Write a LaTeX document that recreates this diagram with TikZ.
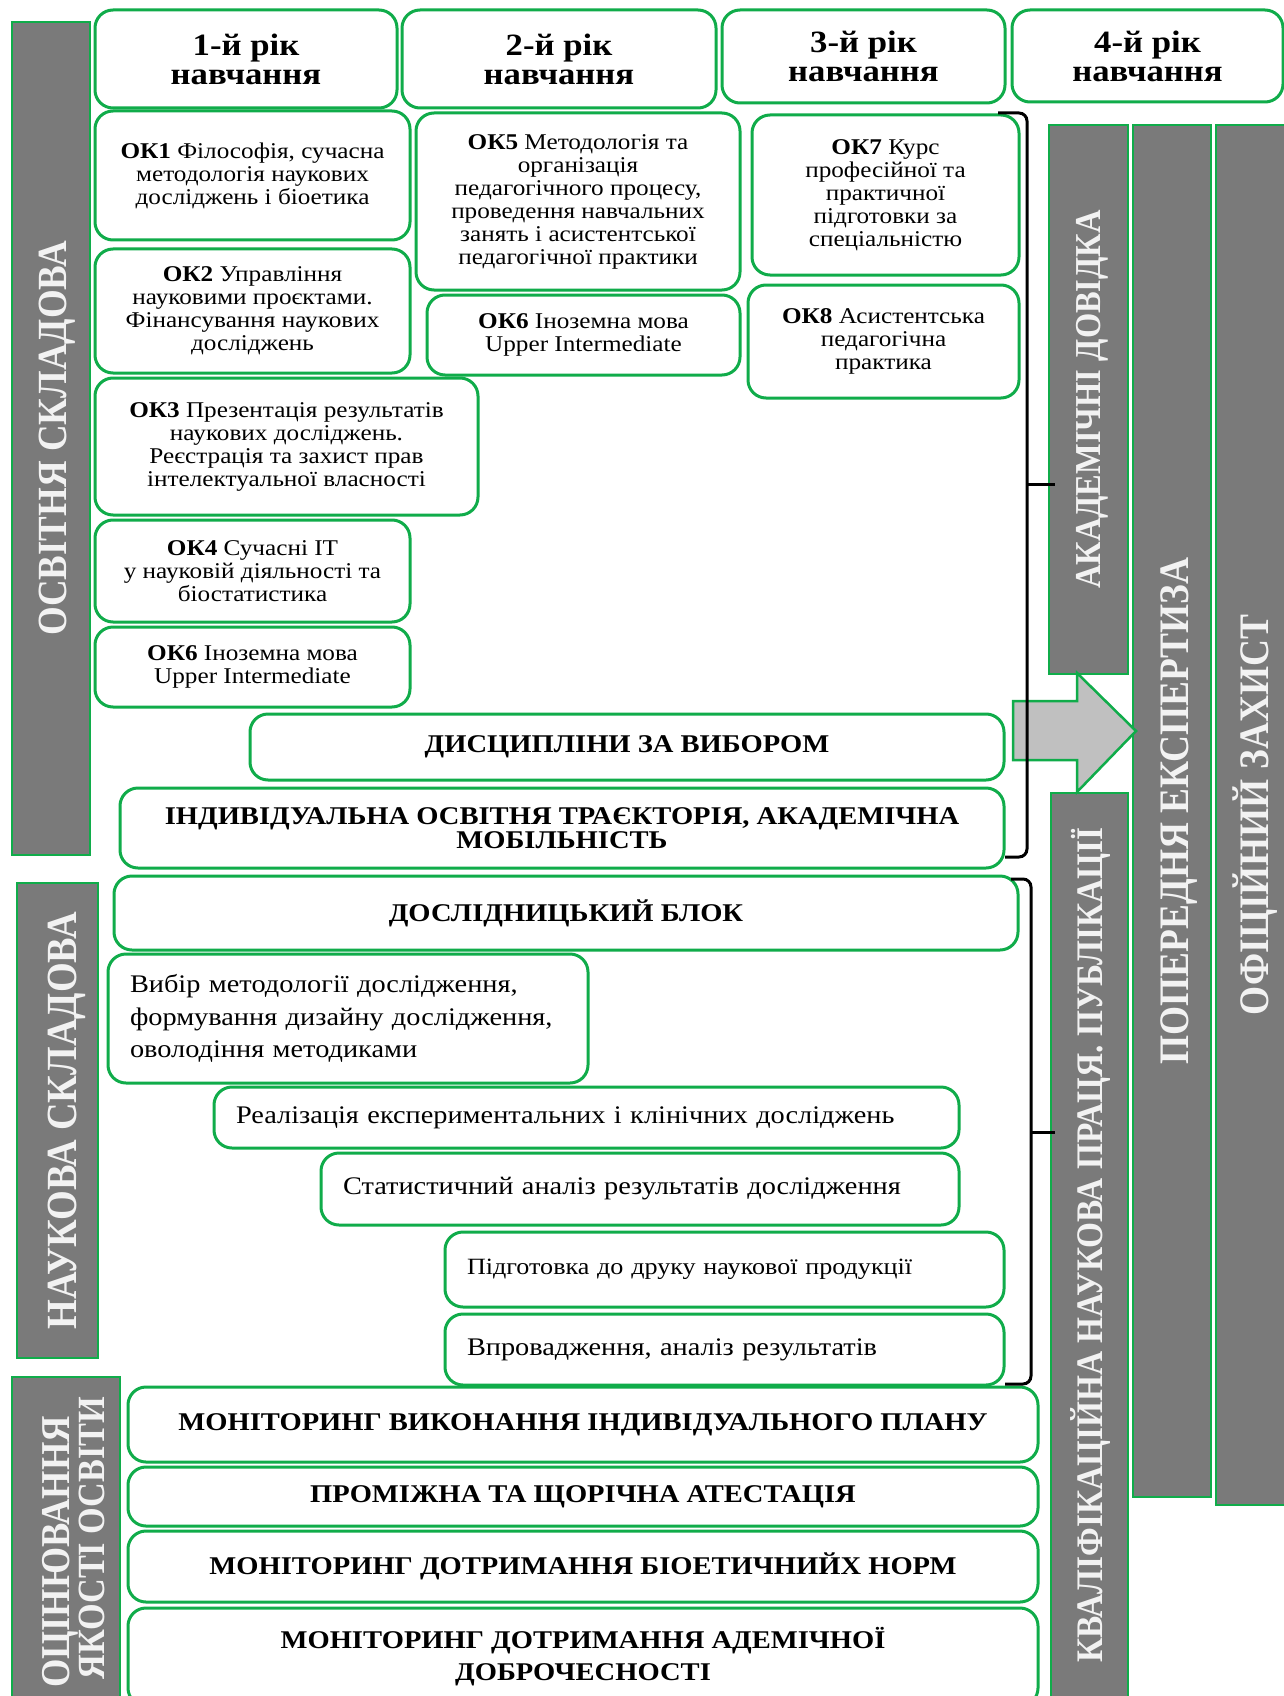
\documentclass[tikz,border=0pt]{standalone}
\usepackage{fontspec}
\setmainfont{Liberation Serif}[FakeStretch=1.12]
\newfontfamily\barfont{Liberation Serif}[FakeStretch=0.89]
\definecolor{grn}{RGB}{16,172,74}
\definecolor{bargray}{RGB}{122,122,122}
\definecolor{arrgray}{RGB}{192,192,192}
\definecolor{bartxt}{RGB}{242,242,242}
\tikzset{
  box/.style={draw=grn, line width=3pt, rounded corners=18pt, fill=white, inner sep=0pt, align=center},
  hdr/.style={box, font=\fontsize{31}{29}\selectfont\bfseries},
  okbox/.style={box, font=\fontsize{22.5}{23}\selectfont},
  capsbox/.style={box, font=\fontsize{25.5}{24}\selectfont\bfseries},
  resbox/.style={box, align=left, inner xsep=22pt, text width=#1, font=\fontsize{25.3}{32.5}\selectfont},
  bar/.style={draw=grn, line width=2.5pt, fill=bargray, inner sep=0pt},
  bartext/.style={text=bartxt, rotate=90, align=center, inner sep=0pt},
  brk/.style={draw=black, line width=3pt, rounded corners=8pt},
  bigarrow/.style={fill=arrgray, draw=grn, line width=2.5pt, line join=miter}
}
\begin{document}
\begin{tikzpicture}[x=1pt,y=-1pt]
\fill[white] (0,0) rectangle (1284,1696);
\useasboundingbox (0,0) rectangle (1284,1696);
\clip (0,0) rectangle (1284,1696);

% headers
\node[hdr, minimum width=302, minimum height=98] (h1) at (246,59) {1-й рік\\навчання};
\node[hdr, minimum width=314, minimum height=98] (h2) at (559,59) {2-й рік\\навчання};
\node[hdr, minimum width=283, minimum height=93] (h3) at (863.5,56.5) {3-й рік\\навчання};
\node[hdr, minimum width=271, minimum height=92] (h4) at (1147.5,56) {4-й рік\\навчання};

% left bars
\node[bar, minimum width=78, minimum height=833] (osv) at (51,438.5) {};
\node[bartext, font=\barfont\fontsize{41.5}{40}\selectfont\bfseries] (osvt) at (57.5,438.5) {ОСВІТНЯ СКЛАДОВА};
\node[bar, minimum width=81, minimum height=475] (nauk) at (57.5,1120.5) {};
\node[bartext, font=\barfont\fontsize{43}{40}\selectfont\bfseries] (naukt) at (66.5,1121) {НАУКОВА СКЛАДОВА};
\node[bar, minimum width=108, minimum height=330] (ocin) at (66,1542) {};
\node[bartext, font=\barfont\fontsize{41}{37}\selectfont\bfseries] (ocint1) at (60,1552) {ОЦІНЮВАННЯ};
\node[bartext, font=\barfont\fontsize{38.5}{37}\selectfont\bfseries] (ocint2) at (92,1538) {ЯКОСТІ ОСВІТИ};

% right bars
\node[bar, minimum width=79, minimum height=549] (akad) at (1088.5,399.5) {};
\node[bartext, font=\barfont\fontsize{36.5}{36}\selectfont\bfseries] (akadt) at (1092,399.5) {АКАДЕМІЧНІ ДОВІДКА};
\node[bar, minimum width=78, minimum height=1372] (pop) at (1172,811) {};
\node[bartext, font=\barfont\fontsize{42}{40}\selectfont\bfseries] (popt) at (1179.5,811) {ПОПЕРЕДНЯ ЕКСПЕРТИЗА};
\node[bar, minimum width=72, minimum height=1380] (ofic) at (1252,815) {};
\node[bartext, font=\barfont\fontsize{42}{40}\selectfont\bfseries] (ofict) at (1255,815) {ОФІЦІЙНИЙ ЗАХИСТ};
\node[bar, minimum width=77, minimum height=915] (kval) at (1089.5,1250.5) {};
\node[bartext, font=\barfont\fontsize{37.5}{36}\selectfont\bfseries] (kvalt) at (1090.5,1245) {КВАЛІФІКАЦІЙНА НАУКОВА ПРАЦЯ. ПУБЛІКАЦІЇ};

% OK boxes
\node[okbox, minimum width=315, minimum height=129] (ok1) at (252.5,175.5) {\textbf{ОК1} Філософія, сучасна\\методологія наукових\\досліджень і біоетика};
\node[okbox, minimum width=315, minimum height=124] (ok2) at (252.5,311) {\textbf{ОК2} Управління\\науковими проєктами.\\Фінансування наукових\\досліджень};
\node[okbox, minimum width=383, minimum height=137] (ok3) at (286.5,446.5) {\textbf{ОК3} Презентація результатів\\наукових досліджень.\\Реєстрація та захист прав\\інтелектуальної власності};
\node[okbox, minimum width=315, minimum height=102] (ok4) at (252.5,571) {\textbf{ОК4} Сучасні ІТ\\у науковій діяльності та\\біостатистика};
\node[okbox, minimum width=315, minimum height=80] (ok6a) at (252.5,667) {\textbf{ОК6} Іноземна мова\\Upper Intermediate};
\node[okbox, minimum width=324, minimum height=177] (ok5) at (578,201.5) {\textbf{ОК5} Методологія та\\організація\\педагогічного процесу,\\проведення навчальних\\занять і асистентської\\педагогічної практики};
\node[okbox, minimum width=313, minimum height=80] (ok6b) at (583.5,335) {\textbf{ОК6} Іноземна мова\\Upper Intermediate};
\node[okbox, minimum width=267, minimum height=160] (ok7) at (885.5,195) {\textbf{ОК7} Курс\\професійної та\\практичної\\підготовки за\\спеціальністю};
\node[okbox, minimum width=271, minimum height=113] (ok8) at (883.5,341.5) {\textbf{ОК8} Асистентська\\педагогічна\\практика};

% wide boxes
\node[capsbox, minimum width=754, minimum height=66] (disc) at (627,747) {ДИСЦИПЛІНИ ЗА ВИБОРОМ};
\node[capsbox, minimum width=884, minimum height=80] (indiv) at (562,828) {ІНДИВІДУАЛЬНА ОСВІТНЯ ТРАЄКТОРІЯ, АКАДЕМІЧНА\\МОБІЛЬНІСТЬ};
\node[capsbox, minimum width=904, minimum height=74] (dosl) at (566,913) {ДОСЛІДНИЦЬКИЙ БЛОК};

% research
\node[resbox=436pt, minimum width=480, minimum height=129] (vybir) at (348,1018.5) {Вибір методології дослідження,\\формування дизайну дослідження,\\оволодіння методиками};
\node[resbox=701pt, minimum width=745, minimum height=61] (real) at (586.5,1117.5) {Реалізація експериментальних і клінічних досліджень};
\node[resbox=594pt, minimum width=638, minimum height=72] (stat) at (640,1189) {Статистичний аналіз результатів дослідження};
\node[resbox=515pt, minimum width=559, minimum height=75, font=\fontsize{23.3}{30}\selectfont] (pidg) at (724.5,1269.5) {Підготовка до друку наукової продукції};
\node[resbox=515pt, minimum width=559, minimum height=71] (vprov) at (724.5,1349.5) {Впровадження, аналіз результатів};

% monitoring
\node[capsbox, minimum width=910, minimum height=75] (mon1) at (583,1424.5) {МОНІТОРИНГ ВИКОНАННЯ ІНДИВІДУАЛЬНОГО ПЛАНУ};
\node[capsbox, minimum width=910, minimum height=59] (prom) at (583,1496.5) {ПРОМІЖНА ТА ЩОРІЧНА АТЕСТАЦІЯ};
\node[capsbox, minimum width=910, minimum height=71] (mon2) at (583,1566.5) {МОНІТОРИНГ ДОТРИМАННЯ БІОЕТИЧНИЙХ НОРМ};
\node[capsbox, minimum width=910, minimum height=98, font=\fontsize{25.5}{32}\selectfont\bfseries] (mon3) at (583,1657) {МОНІТОРИНГ ДОТРИМАННЯ АДЕМІЧНОЇ\\ДОБРОЧЕСНОСТІ};

% arrow
\draw[bigarrow] (1013,701) -- (1077,701) -- (1077,673) -- (1136,731) -- (1077,792) -- (1077,760) -- (1013,760) -- cycle;

% brackets
\coordinate (b1s) at (998,113);
\coordinate (b1a) at (1027,113);
\coordinate (b1m) at (1027,484);
\coordinate (b1b) at (1027,857);
\coordinate (b1e) at (1005,857);
\coordinate (b1t) at (1055,484);
\draw[brk] (b1s) -- (b1a) -- (b1b) -- (b1e);
\draw[line width=3pt] (b1m) -- (b1t);
\coordinate (b2s) at (1011,879);
\coordinate (b2a) at (1031,879);
\coordinate (b2m) at (1031,1132);
\coordinate (b2b) at (1031,1384);
\coordinate (b2e) at (1005,1384);
\coordinate (b2t) at (1055,1132);
\draw[brk] (b2s) -- (b2a) -- (b2b) -- (b2e);
\draw[line width=3pt] (b2m) -- (b2t);
\end{tikzpicture}
\end{document}
